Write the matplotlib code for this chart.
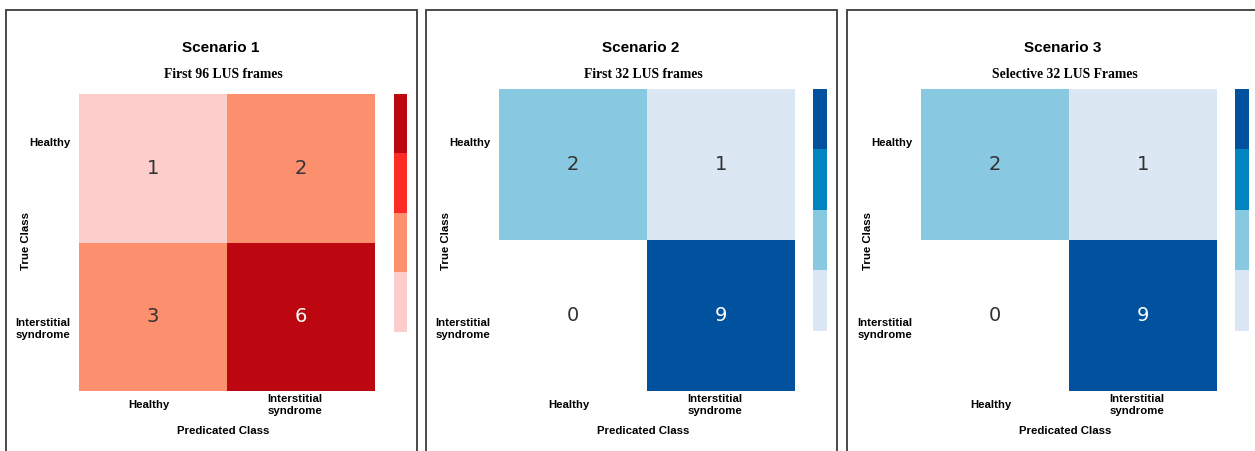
import numpy as np
import matplotlib
matplotlib.use("Agg")
from matplotlib import pyplot as plt
from matplotlib.colors import ListedColormap, BoundaryNorm
from matplotlib.patches import Rectangle
from matplotlib.cm import ScalarMappable

# confusion matrices (rows = true class, cols = predicted class)
classes = ["Healthy", "Interstitial\nsyndrome"]
titles = ["Scenario 1", "Scenario 2", "Scenario 3"]
subtitles = ["First 96 LUS frames", "First 32 LUS frames", "Selective 32 LUS Frames"]
cm_s1 = [[1, 2], [3, 6]]
cm_s2 = [[2, 1], [0, 9]]
cm_s3 = [[2, 1], [0, 9]]

reds = ["#ffffff", "#fdcdcc", "#fc8f6e", "#fb2c24", "#bd0710"]
blues = ["#ffffff", "#dbe7f3", "#88c8e0", "#0085c0", "#00519e"]
red_bounds = [-0.5, 0.5, 1.5, 3.5, 5.0, 6.5]
blue_bounds = [-0.5, 0.5, 1.5, 2.5, 5.5, 9.5]

W, H = 1255, 451
fig = plt.figure(figsize=(W / 100, H / 100), dpi=100)

def box(x0, y0, x1, y1):
    # pixel box (top-left origin) -> figure fraction [l, b, w, h]
    return [x0 / W, 1 - y1 / H, (x1 - x0) / W, (y1 - y0) / H]

def fx(x):
    return x / W

def fy(y):
    return 1 - y / H

sans = "Liberation Sans"
serif = "Liberation Serif"

panels = [
    # frame left/right, heatmap left/top/bottom, colorbar left/width
    dict(fl=6, fr=417, L=79, T=94, B=391, cl=394, cw=13),
    dict(fl=426, fr=837, L=499, T=89, B=391, cl=813, cw=14),
    dict(fl=847, fr=1262, L=921, T=89, B=391, cl=1235, cw=14),
]
mats = [cm_s1, cm_s2, cm_s3]
cmaps = [reds, blues, blues]
bounds = [red_bounds, blue_bounds, blue_bounds]

for i, p in enumerate(panels):
    # panel frame
    fig.patches.append(Rectangle((fx(p["fl"]), fy(470)), fx(p["fr"] - p["fl"]),
                                 fy(9.5) - fy(470), transform=fig.transFigure,
                                 fill=False, edgecolor="#3c3c3c", linewidth=1.3))

    cmap = ListedColormap(cmaps[i])
    norm = BoundaryNorm(bounds[i], cmap.N)
    data = np.array(mats[i])

    ax = fig.add_axes(box(p["L"], p["T"], p["L"] + 296, p["B"]))
    ax.pcolormesh(data, cmap=cmap, norm=norm, edgecolors="face", linewidth=0)
    ax.set_xlim(0, 2)
    ax.set_ylim(2, 0)
    for s in ax.spines.values():
        s.set_visible(False)
    ax.tick_params(length=0)

    for r in range(2):
        for c in range(2):
            v = data[r, c]
            col = "white" if v >= bounds[i][-2] else "#333333"
            ax.text(c + 0.5, r + 0.5, str(v), ha="center", va="center",
                    fontsize=14, color=col, family="DejaVu Sans")

    ax.set_xticks([0.47, 1.46])
    ax.set_xticklabels(classes, fontsize=8.2, fontweight="bold", family=sans,
                       va="center", multialignment="center")
    ax.tick_params(axis="x", pad=10)
    hgt = p["B"] - p["T"]
    ax.set_yticks([(142 - p["T"]) / hgt * 2, (327 - p["T"]) / hgt * 2])
    ax.set_yticklabels(classes, fontsize=8.2, fontweight="bold", family=sans,
                       multialignment="center")
    ax.tick_params(axis="y", pad=6)

    # discrete colorbar, no ticks
    cax = fig.add_axes(box(p["cl"], p["T"], p["cl"] + p["cw"], p["B"]))
    sm = ScalarMappable(norm=norm, cmap=cmap)
    cb = fig.colorbar(sm, cax=cax, spacing="uniform")
    cb.outline.set_visible(False)
    cb.set_ticks([])
    cb.minorticks_off()
    cax.tick_params(which="both", length=0, labelsize=0)

    L = p["L"]
    fig.text(fx(L + 142), fy(48), titles[i], ha="center", va="center",
             fontsize=11, fontweight="bold", family=sans)
    fig.text(fx(L + 144), fy(74), subtitles[i], ha="center", va="center",
             fontsize=9.8, fontweight="bold", family=serif)
    fig.text(fx(L - 53), fy(241), "True Class", ha="center", va="center",
             rotation=90, fontsize=8.2, fontweight="bold", family=sans)
    fig.text(fx(L + 144), fy(431), "Predicated Class", ha="center", va="center",
             fontsize=8.2, fontweight="bold", family=sans)

fig.savefig("out.png", dpi=100)
